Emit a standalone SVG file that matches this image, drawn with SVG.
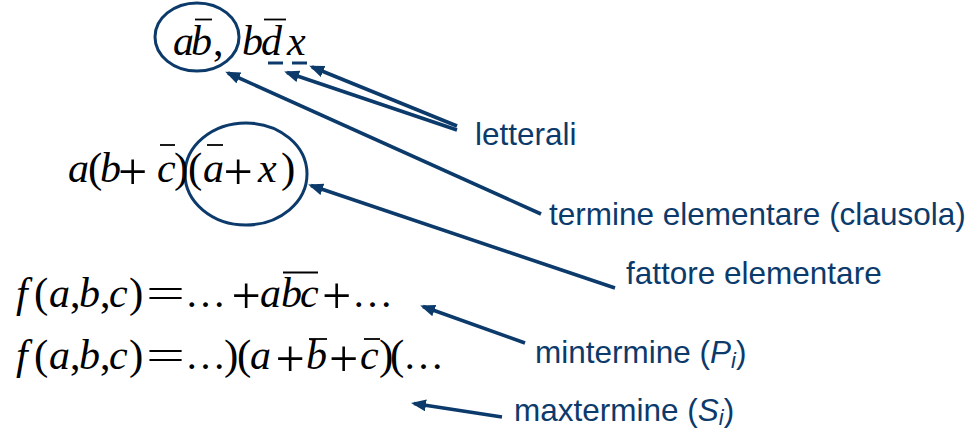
<svg xmlns="http://www.w3.org/2000/svg" width="977" height="430" viewBox="0 0 977 430">
<style>
.m{font-family:"Liberation Serif","Times New Roman",serif;font-size:42px;fill:#000}
.i{font-style:italic}
.p{font-size:43px}
.op{font-family:"Liberation Serif","Times New Roman",serif;font-size:52px;fill:#000}
.el{font-size:41px}
.bar{stroke:#000;stroke-width:1.8}
.lbl{font-family:"Liberation Sans",Arial,sans-serif;font-size:31.5px;fill:#0b3a6b}
.ring{fill:none;stroke:#0b3a6b;stroke-width:3}
.con{fill:none;stroke:#0b3a6b;stroke-width:3.6;marker-end:url(#ah)}
.ul{stroke:#0b3a6b;stroke-width:3}
</style>
<defs>
<marker id="ah" markerUnits="userSpaceOnUse" markerWidth="18" markerHeight="14" refX="12" refY="6" orient="auto">
<path d="M0,0 L15,6 L0,12 z" fill="#0b3a6b"/>
</marker>
</defs>
<rect width="977" height="430" fill="#fff"/>

<g id="expr-literals">
<ellipse class="ring" cx="197" cy="37" rx="42" ry="34"/>
<text class="m i" y="55"><tspan x="173">a</tspan><tspan x="191">b</tspan><tspan x="213" font-style="normal">,</tspan><tspan x="242">b</tspan><tspan x="261">d</tspan><tspan x="287">x</tspan></text>
<line class="bar" x1="195" y1="19.5" x2="212" y2="19.5"/>
<line class="bar" x1="264" y1="19.5" x2="286" y2="19.5"/>
<line class="ul" x1="268" y1="63" x2="283" y2="63"/>
<line class="ul" x1="292" y1="63" x2="307" y2="63"/>
</g>

<g id="expr-factor">
<ellipse class="ring" cx="246" cy="174" rx="61" ry="51"/>
<text class="m" y="182"><tspan class="i" x="68">a</tspan><tspan class="p" x="88">(</tspan><tspan class="i" x="100">b</tspan><tspan class="i" x="157">c</tspan><tspan class="p" x="174">)</tspan><tspan class="p" x="188">(</tspan><tspan class="i" x="203">a</tspan><tspan class="i" x="258">x</tspan><tspan class="p" x="281">)</tspan></text>
<text class="op" x="118" y="188.5">+</text>
<text class="op" x="223.5" y="188.5">+</text>
<line class="bar" x1="160" y1="145" x2="175" y2="145"/>
<line class="bar" x1="207" y1="145" x2="223" y2="145"/>
</g>

<g id="expr-minterm">
<text class="m" y="307"><tspan class="i" x="16">f</tspan><tspan class="p" x="34">(</tspan><tspan class="i" x="49">a</tspan><tspan x="70">,</tspan><tspan class="i" x="79">b</tspan><tspan x="100">,</tspan><tspan class="i" x="109">c</tspan><tspan class="p" x="129">)</tspan><tspan class="el" x="185">…</tspan><tspan class="i" x="260">a</tspan><tspan class="i" x="281">b</tspan><tspan class="i" x="300">c</tspan><tspan class="el" x="352">…</tspan></text>
<text class="op" x="231.5" y="312.5">+</text>
<text class="op" x="322" y="312.5">+</text>
<text class="m" x="146" y="307" font-size="44" textLength="39" lengthAdjust="spacingAndGlyphs">=</text>
<line class="bar" x1="283" y1="272.5" x2="318" y2="272.5"/>
</g>

<g id="expr-maxterm">
<text class="m" y="369"><tspan class="i" x="16">f</tspan><tspan class="p" x="34">(</tspan><tspan class="i" x="49">a</tspan><tspan x="70">,</tspan><tspan class="i" x="79">b</tspan><tspan x="100">,</tspan><tspan class="i" x="109">c</tspan><tspan class="p" x="129">)</tspan><tspan class="el" x="185">…</tspan><tspan class="p" x="224">)</tspan><tspan class="p" x="237">(</tspan><tspan class="i" x="250">a</tspan><tspan class="i" x="306">b</tspan><tspan class="i" x="360">c</tspan><tspan class="p" x="379">)</tspan><tspan class="p" x="390">(</tspan><tspan class="el" x="403">…</tspan></text>
<text class="op" x="275.5" y="375.5">+</text>
<text class="op" x="329" y="375.5">+</text>
<text class="m" x="146" y="369" font-size="44" textLength="39" lengthAdjust="spacingAndGlyphs">=</text>
<line class="bar" x1="309" y1="339" x2="327" y2="339"/>
<line class="bar" x1="364" y1="339" x2="380" y2="339"/>
</g>

<g id="label-letterali"><text class="lbl" x="475" y="145">letterali</text></g>
<g id="label-termine"><text class="lbl" x="549" y="225">termine elementare (clausola)</text></g>
<g id="label-fattore"><text class="lbl" x="626" y="284">fattore elementare</text></g>
<g id="label-mintermine"><text class="lbl" x="535" y="363">mintermine (<tspan font-style="italic">P</tspan><tspan font-style="italic" font-size="22" dy="5">i</tspan><tspan dy="-5">)</tspan></text></g>
<g id="label-maxtermine"><text class="lbl" x="514" y="421">maxtermine (<tspan font-style="italic">S</tspan><tspan font-style="italic" font-size="22" dy="4">i</tspan><tspan dy="-4">)</tspan></text></g>

<g id="connectors">
<line class="con" x1="457" y1="126" x2="312" y2="67"/>
<line class="con" x1="457" y1="130" x2="287" y2="72.5"/>
<line class="con" x1="541" y1="214" x2="228" y2="73"/>
<line class="con" x1="615" y1="288" x2="311" y2="185.5"/>
<line class="con" x1="525" y1="343" x2="423" y2="306.5"/>
<line class="con" x1="502" y1="417" x2="414" y2="403.5"/>
</g>
</svg>
